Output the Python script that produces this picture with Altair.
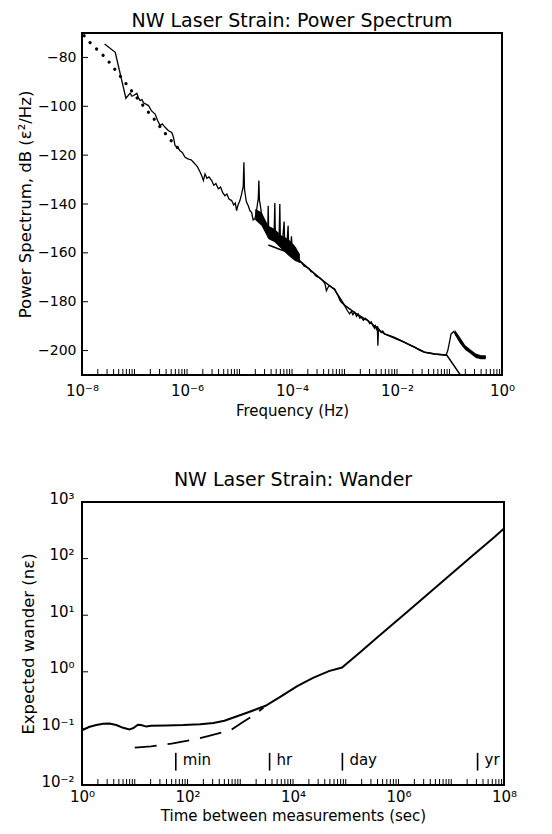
import altair as alt
import pandas as pd

FONT = "DejaVu Sans"

# ---------------- Top panel: power spectrum ----------------
# measured spectrum (log10 frequency in Hz, power in dB)
spec_logf = [-7.569, -7.367, -7.164, -7.082, -7.050, -7.018, -6.955, -6.920, -6.892, -6.860,
             -6.828, -6.733, -6.680, -6.607, -6.560, -6.512, -6.470, -6.417, -6.353, -6.290,
             -6.260, -6.227, -6.180, -6.132, -6.090, -6.037, -5.973, -5.920, -5.847, -5.800,
             -5.760, -5.720, -5.688, -5.657, -5.620, -5.580, -5.530, -5.490, -5.450, -5.403,
             -5.360, -5.320, -5.277, -5.240, -5.200, -5.150, -5.110, -5.080, -5.055, -5.030,
             -4.992, -4.960, -4.947, -4.930, -4.916, -4.905, -4.897, -4.870, -4.833, -4.800,
             -4.770, -4.740, -4.707, -4.690, -4.675, -4.655, -4.643, -4.631, -4.620, -4.612,
             -4.580, -4.548, -4.515, -4.485, -4.460, -4.453, -4.445, -4.434, -4.400, -4.377,
             -4.340, -4.327, -4.318, -4.308, -4.285, -4.264, -4.245, -4.232, -4.222, -4.213,
             -4.180, -4.150, -4.140, -4.124, -4.100, -4.074, -4.064, -4.048, -4.025, -4.010,
             -3.995, -3.972, -3.934, -3.915, -3.896, -3.871, -3.850, -3.820, -3.770, -3.725,
             -3.680, -3.640, -3.598, -3.550, -3.504, -3.460, -3.409, -3.370, -3.345, -3.310,
             -3.282, -3.240, -3.187, -3.150, -3.124, -3.090, -3.060, -3.030, -2.997, -2.950,
             -2.902, -2.870, -2.840, -2.807, -2.770, -2.740, -2.710, -2.680, -2.640, -2.600,
             -2.554, -2.520, -2.490, -2.459, -2.430, -2.410, -2.395, -2.375, -2.364, -2.352,
             -2.332, -2.300, -2.270, -2.237, -2.150, -2.047, -1.950, -1.857, -1.760, -1.667,
             -1.570, -1.477, -1.380, -1.287, -1.180, -1.065, -1.033, -1.000, -0.970, -0.919,
             -0.880, -0.843, -0.800, -0.748, -0.700, -0.654, -0.590, -0.527, -0.460, -0.400,
             -0.350, -0.305]
spec_db = [-74.5, -77.9, -96.7, -94.6, -95.9, -95.6, -94.7, -96.8, -97.7, -97.2,
           -98.6, -99.7, -101.8, -103.2, -105.8, -107.9, -107.2, -108.6, -110.0, -110.7,
           -112.5, -116.1, -116.8, -118.2, -118.9, -120.9, -121.6, -121.9, -123.6, -124.8,
           -126.5, -128.4, -130.4, -127.7, -129.5, -128.9, -130.4, -132.3, -131.6, -133.8,
           -133.1, -135.4, -136.6, -135.9, -138.0, -138.6, -140.4, -139.6, -142.7, -140.5,
           -138.6, -136.0, -134.5, -133.0, -122.9, -134.0, -135.2, -139.0, -140.7, -142.8,
           -143.4, -146.5, -146.1, -144.5, -142.7, -139.5, -137.9, -130.4, -138.5, -139.3,
           -144.0, -146.8, -148.3, -150.2, -149.0, -140.7, -150.5, -151.6, -150.3, -152.3,
           -151.4, -139.6, -152.0, -153.6, -152.5, -154.3, -153.0, -140.0, -154.0, -156.4,
           -155.0, -147.2, -155.8, -156.4, -157.4, -148.9, -157.5, -158.4, -157.0, -153.2,
           -159.0, -159.8, -157.7, -161.8, -161.1, -162.5, -163.8, -163.9, -165.4, -165.9,
           -166.3, -167.6, -168.0, -169.4, -170.0, -170.4, -171.4, -172.8, -175.5, -174.0,
           -173.4, -174.2, -174.8, -176.5, -177.5, -179.4, -180.2, -180.8, -181.6, -183.5,
           -185.0, -184.0, -185.3, -184.3, -186.0, -185.0, -186.7, -186.4, -187.6, -186.8,
           -187.7, -189.0, -188.3, -189.8, -190.8, -189.9, -191.1, -190.0, -198.0, -191.0,
           -191.8, -192.6, -192.0, -193.2, -193.8, -194.6, -195.6, -196.6, -197.7, -198.6,
           -199.8, -200.7, -201.0, -201.4, -201.6, -201.8, -200.0, -196.5, -193.2, -192.2,
           -193.5, -194.6, -196.5, -198.0, -198.9, -199.3, -200.6, -201.8, -202.4, -202.7,
           -202.5, -202.7]

# dense scatter of the spectrum (upper / lower envelope)
band_group = ["tides"] * 8 + ["hf"] * 7
band_logf = [-4.70, -4.58, -4.45, -4.33, -4.20, -4.07, -3.95, -3.85,
             -0.90, -0.80, -0.70, -0.60, -0.50, -0.40, -0.31]
band_hi = [-142.0, -143.4, -148.9, -150.2, -152.9, -154.3, -157.0, -160.5,
           -191.5, -194.5, -197.8, -199.6, -201.2, -201.9, -201.9]
band_lo = [-146.5, -148.9, -154.3, -155.7, -158.4, -161.1, -163.2, -164.2,
           -193.5, -197.0, -199.8, -201.3, -203.0, -203.6, -203.6]

# model spectrum: dotted low-frequency part
model_lf_logf = [-7.96, -7.84, -7.71, -7.59, -7.48, -7.37, -7.27, -7.17, -7.06,
                 -6.76, -6.64, -6.33, -6.10]
model_lf_db = [-71.1, -74.1, -76.8, -79.3, -82.0, -85.0, -87.7, -90.5, -93.6,
               -101.8, -104.9, -113.4, -118.8]
# model spectrum: solid high-frequency part
model_hf_logf = [-4.45, -4.20, -3.95, -3.82, -3.60, -3.40, -3.19, -3.00, -2.80,
                 -2.55, -2.24, -1.86, -1.48, -1.29, -1.05, -0.78]
model_hf_db = [-156.8, -158.8, -161.1, -163.9, -168.0, -171.6, -175.0, -181.4, -184.6,
               -187.8, -193.2, -196.6, -200.6, -201.4, -201.9, -210.4]

top_y_ticks = [-200, -180, -160, -140, -120, -100, -80]
top_x_label_exp = [-8, -6, -4, -2, 0]
top_x_labels = ["10\u207b\u2078", "10\u207b\u2076", "10\u207b\u2074", "10\u207b\u00b2", "10\u2070"]

# ---------------- Bottom panel: wander ----------------
wander_logt = [0.0, 0.13, 0.27, 0.40, 0.52, 0.65, 0.78, 0.90, 0.98, 1.06,
               1.12, 1.22, 1.31, 1.60, 1.92, 2.24, 2.49, 2.70, 2.94, 3.18,
               3.48, 3.78, 4.08, 4.38, 4.68, 4.93, 5.11, 5.29, 5.59, 6.19,
               6.79, 7.39, 7.82, 8.0]
wander_logw = [-1.035, -0.975, -0.94, -0.918, -0.912, -0.94, -0.99, -1.018, -0.99, -0.935,
               -0.94, -0.968, -0.955, -0.948, -0.94, -0.925, -0.905, -0.865, -0.785, -0.705,
               -0.600, -0.43, -0.253, -0.106, 0.012, 0.075, 0.218, 0.36, 0.60, 1.08,
               1.56, 2.04, 2.38, 2.53]

dash_logt = [1.0, 1.31, 1.70, 2.20, 2.39, 2.81, 3.03, 3.25, 3.44]
dash_logw = [-1.341, -1.318, -1.27, -1.18, -1.135, -1.035, -0.90, -0.77, -0.635]

ann_names = ["min", "hr", "day", "yr"]
ann_seconds = [60, 3600, 86400, 31557600]
ann_bar_lo = 0.018
ann_bar_hi = 0.037
ann_text_y = 0.0225

bot_y_exp = [-2, -1, 0, 1, 2, 3]
bot_y_labels = ["10\u207b\u00b2", "10\u207b\u00b9", "10\u2070", "10\u00b9", "10\u00b2", "10\u00b3"]
bot_x_label_exp = [0, 2, 4, 6, 8]
bot_x_labels = ["10\u2070", "10\u00b2", "10\u2074", "10\u2076", "10\u2078"]

TOP_W, TOP_H = 420, 342
BOT_W, BOT_H = 422, 283
TICK = 6


def label_expr(exps, labels):
    expr = "''"
    for e, lab in reversed(list(zip(exps, labels))):
        expr = f"abs(log(datum.value)/LN10 - ({e})) < 0.001 ? '{lab}' : " + expr
    return expr


def log_ticks(e0, e1):
    vals = []
    for e in range(e0, e1):
        for k in range(1, 10):
            vals.append(k * 10.0 ** e)
    vals.append(10.0 ** e1)
    return vals


spec_df = pd.DataFrame({"f": [10 ** v for v in spec_logf], "db": spec_db})
band_df = pd.DataFrame({"g": band_group, "f": [10 ** v for v in band_logf],
                        "lo": band_lo, "hi": band_hi})
mlf_df = pd.DataFrame({"f": [10 ** v for v in model_lf_logf], "db": model_lf_db})
mhf_df = pd.DataFrame({"f": [10 ** v for v in model_hf_logf], "db": model_hf_db})
top_xt_df = pd.DataFrame({"f": log_ticks(-8, 0)})
top_yt_df = pd.DataFrame({"db": top_y_ticks})

x_top = alt.X("f:Q", scale=alt.Scale(type="log", domain=[1e-8, 1], nice=False),
              axis=alt.Axis(values=[10.0 ** e for e in top_x_label_exp],
                            labelExpr=label_expr(top_x_label_exp, top_x_labels),
                            labelOverlap=False, labelFlush=False, ticks=False,
                            labelPadding=8, labelFontSize=15,
                            title="Frequency (Hz)", titlePadding=5, titleFontSize=15))
y_top = alt.Y("db:Q", scale=alt.Scale(domain=[-210, -70], nice=False),
              axis=alt.Axis(values=top_y_ticks,
                            labelExpr="datum.value < 0 ? '\u2212' + abs(datum.value) : '' + datum.value",
                            ticks=False, labelPadding=6, labelFontSize=14,
                            title="Power Spectrum, dB (\u03b5\u00b2/Hz)",
                            titlePadding=4, titleFontSize=16.5))

band = alt.Chart(band_df).mark_area(color="black", opacity=1).encode(
    x=x_top, y=alt.Y("lo:Q", scale=alt.Scale(domain=[-210, -70], nice=False)),
    y2="hi:Q", detail="g:N")
spec = alt.Chart(spec_df).mark_line(color="black", strokeWidth=1.3).encode(x=x_top, y=y_top)
mlf = alt.Chart(mlf_df).mark_line(color="black", strokeWidth=3.2, strokeDash=[0.1, 9],
                                  strokeCap="round").encode(x=x_top, y=y_top)
mhf = alt.Chart(mhf_df).mark_line(color="black", strokeWidth=1.5, clip=True).encode(
    x=x_top, y=y_top)
top_xt = alt.Chart(top_xt_df).mark_rule(color="black", strokeWidth=1).encode(
    x="f:Q", y=alt.value(TOP_H), y2=alt.value(TOP_H - TICK))
top_yt = alt.Chart(top_yt_df).mark_rule(color="black", strokeWidth=1).encode(
    y="db:Q", x=alt.value(0), x2=alt.value(TICK))

top = alt.layer(spec, band, mlf, mhf, top_xt, top_yt).properties(
    width=TOP_W, height=TOP_H,
    title=alt.TitleParams("NW Laser Strain: Power Spectrum", fontSize=19, font=FONT,
                          fontWeight="normal", color="black", offset=-2))

# bottom
wander_df = pd.DataFrame({"t": [10 ** v for v in wander_logt], "w": [10 ** v for v in wander_logw]})
dash_df = pd.DataFrame({"t": [10 ** v for v in dash_logt], "w": [10 ** v for v in dash_logw]})
ann_df = pd.DataFrame({"t": ann_seconds, "name": ann_names,
                       "lo": [ann_bar_lo] * 4, "hi": [ann_bar_hi] * 4, "ty": [ann_text_y] * 4})
bot_xt_df = pd.DataFrame({"t": log_ticks(0, 8)})
bot_yt_df = pd.DataFrame({"w": [10.0 ** e for e in bot_y_exp]})

x_bot = alt.X("t:Q", scale=alt.Scale(type="log", domain=[1, 1e8], nice=False),
              axis=alt.Axis(values=[10.0 ** e for e in bot_x_label_exp],
                            labelExpr=label_expr(bot_x_label_exp, bot_x_labels),
                            labelOverlap=False, labelFlush=False, ticks=False,
                            labelPadding=4, labelFontSize=15,
                            title="Time between measurements (sec)", titlePadding=4,
                            titleFontSize=15))
y_bot = alt.Y("w:Q", scale=alt.Scale(type="log", domain=[0.01, 1000], nice=False),
              axis=alt.Axis(values=[10.0 ** e for e in bot_y_exp],
                            labelExpr=label_expr(bot_y_exp, bot_y_labels),
                            ticks=False, labelPadding=8, labelFontSize=15, labelOffset=-4,
                            title="Expected wander (n\u03b5)", titlePadding=4,
                            titleFontSize=16.5))

solid = alt.Chart(wander_df).mark_line(color="black", strokeWidth=2).encode(x=x_bot, y=y_bot)
dashed = alt.Chart(dash_df).mark_line(color="black", strokeWidth=1.8, strokeDash=[22, 11]).encode(
    x=x_bot, y=y_bot)
rules = alt.Chart(ann_df).mark_rule(color="black", strokeWidth=1.6).encode(
    x="t:Q", y=alt.Y("lo:Q"), y2="hi:Q")
texts = alt.Chart(ann_df).mark_text(align="left", baseline="alphabetic", dx=7, fontSize=15,
                                    font=FONT, color="black").encode(
    x="t:Q", y=alt.Y("ty:Q"), text="name:N")
bot_xt = alt.Chart(bot_xt_df).mark_rule(color="black", strokeWidth=1).encode(
    x="t:Q", y=alt.value(BOT_H), y2=alt.value(BOT_H - TICK))
bot_yt = alt.Chart(bot_yt_df).mark_rule(color="black", strokeWidth=1).encode(
    y="w:Q", x=alt.value(0), x2=alt.value(TICK))

bottom = alt.layer(solid, dashed, rules, texts, bot_xt, bot_yt).properties(
    width=BOT_W, height=BOT_H,
    title=alt.TitleParams("NW Laser Strain: Wander", fontSize=19, font=FONT,
                          fontWeight="normal", color="black", offset=1))

chart = alt.vconcat(top, bottom, spacing=51).properties(
    padding={"left": 8, "top": 3, "right": 5, "bottom": 5}
).configure_view(stroke="black", strokeWidth=2).configure_axis(
    labelFont=FONT, titleFont=FONT, labelFontSize=14, titleFontSize=15,
    titleFontWeight="normal", labelColor="black", titleColor="black",
    grid=False, domain=False
)

chart.save("out.html", embed_options={"renderer": "svg", "actions": False})
